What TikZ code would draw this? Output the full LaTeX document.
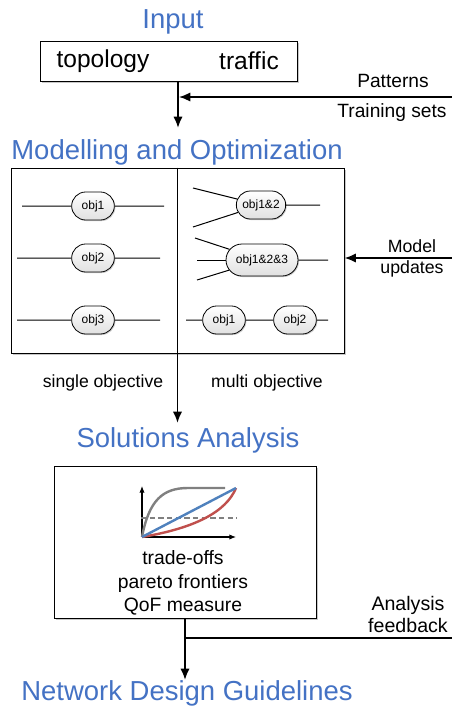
\documentclass[tikz,border=0pt]{standalone}
\usepackage{fontspec}
\setmainfont{Liberation Sans}
\usetikzlibrary{arrows.meta,calc,positioning,shapes.misc,shadows}
\definecolor{titleblue}{RGB}{68,114,196}
\definecolor{curvegray}{RGB}{128,128,128}
\definecolor{curveblue}{RGB}{79,129,189}
\definecolor{curvered}{RGB}{192,80,77}
\tikzset{%
	title/.style    = {text=titleblue, font=\fontsize{20.6}{24}\selectfont, inner sep=0pt},
	frame/.style    = {draw, line width=0.75pt, fill=white, drop shadow={shadow xshift=1.2pt, shadow yshift=-1.2pt, fill=black!22, opacity=1}},
	obj/.style      = {draw, rounded rectangle, line width=0.6pt, top color=white, bottom color=black!12, font=\fontsize{9}{10}\selectfont, minimum width=34pt, minimum height=21pt, inner sep=1pt, drop shadow={shadow xshift=0.8pt, shadow yshift=-0.8pt, fill=black!20, opacity=1}},
	wire/.style     = {line width=0.75pt},
	arrow/.style    = {line width=1.4pt,-{Latex[length=8.5pt,width=7pt]}},
	note/.style     = {font=\fontsize{14.4}{17}\selectfont, align=center, inner sep=0pt},
}

\begin{document}
\begin{tikzpicture}[x=0.75pt, y=-0.75pt]
	\useasboundingbox (0,0) rectangle (452,707);
	% input
	\node[title] (intitle) at (173,22) {Input};
	\node[frame, minimum width=192.75pt, minimum height=30pt] (inbox) at (168.5,61) {};
	\node[font=\fontsize{18.4}{20}\selectfont] (topo) at (103,61) {topology};
	\node[font=\fontsize{18.4}{20}\selectfont] (traffic) at (249,61) {traffic};
	\node[note] (patterns) at (393,81) {Patterns};
	\node[note] (training) at (392,113) {Training sets};
	\coordinate (intip) at (178,128);
	\coordinate (patin) at (452,97);
	\draw[arrow] (inbox.south -| intip) -- (intip);
	\draw[arrow, shorten >=0.7pt] (patin) -- (patin -| intip);
	
	% modelling and optimization
	\node[title] (modtitle) at (177,152) {Modelling and Optimization};
	\node[frame, minimum width=249.75pt, minimum height=138.75pt] (modbox) at (177.5,260.5) {};
	\draw[line width=0.75pt] (modbox.north) -- (modbox.south);
	
	\node[obj] (o1) at (93,206) {obj1};
	\node[obj] (o2) at (93,258) {obj2};
	\node[obj] (o3) at (93,320) {obj3};
	\coordinate (o1l) at (22,206);  \coordinate (o1r) at (164,206);
	\coordinate (o2l) at (17,258);  \coordinate (o2r) at (160,258);
	\coordinate (o3l) at (17,320);  \coordinate (o3r) at (160,320);
	\draw[wire] (o1l) -- (o1) -- (o1r);
	\draw[wire] (o2l) -- (o2) -- (o2r);
	\draw[wire] (o3l) -- (o3) -- (o3r);
	
	\node[obj, minimum width=39pt] (o12) at (261,205) {obj1\&2};
	\node[obj, minimum width=56pt, minimum height=24pt] (o123) at (262,260) {obj1\&2\&3};
	\node[obj] (oa) at (224,320) {obj1};
	\node[obj] (ob) at (295,320) {obj2};
	\coordinate (o12a) at (193,188); \coordinate (o12b) at (193,227); \coordinate (o12r) at (320,205);
	\coordinate (o123a) at (195,238); \coordinate (o123b) at (197,260); \coordinate (o123c) at (197,280);
	\coordinate (o123r) at (328,260);
	\coordinate (oal) at (186,320); \coordinate (obr) at (328,320);
	\draw[wire] (o12a) -- (o12);
	\draw[wire] (o12b) -- (o12);
	\draw[wire] (o12) -- (o12r);
	\draw[wire] (o123a) -- (o123);
	\draw[wire] (o123b) -- (o123);
	\draw[wire] (o123c) -- (o123);
	\draw[wire] (o123) -- (o123r);
	\draw[wire] (oal) -- (oa) -- (ob) -- (obr);
	
	\node[note, font=\fontsize{13.3}{15.75}\selectfont] (modupd) at (412,258) {Model\\updates};
	\coordinate (modin) at (452,258);
	\draw[arrow] (modin) -- (modin -| modbox.east);
	\node[note, font=\fontsize{13.2}{15}\selectfont] (single) at (103,383) {single objective};
	\node[note, font=\fontsize{13.2}{15}\selectfont] (multi) at (267,383) {multi objective};
	
	% solutions analysis
	\coordinate (soltip) at (177.5,423);
	\draw[arrow] (modbox.south) -- (soltip);
	\node[title] (soltitle) at (188,440) {Solutions Analysis};
	\node[frame, minimum width=196.5pt, minimum height=114pt] (solbox) at (185,542) {};
	
	\draw[line width=0.8pt, -{Latex[length=5pt,width=4pt]}] (142,537) -- (142,486);
	\draw[line width=0.8pt, -{Latex[length=5pt,width=4pt]}] (142,537) -- (236,537);
	\draw[curvegray, line width=1.6pt, dash pattern=on 4pt off 2.5pt] (141,518) -- (237,518);
	\draw[curvegray, line width=1.8pt] (142,537) .. controls (149,500) and (163,488) .. (188,488) -- (225,488);
	\draw[curvered, line width=1.8pt] (142,537) .. controls (195,528) and (226,512) .. (236,488);
	\draw[curveblue, line width=1.8pt] (142,537) -- (236,488);
	
	\node[note, font=\fontsize{14.5}{17.6}\selectfont] (soltext) at (183,583) {trade-offs\\pareto frontiers\\QoF measure};
	\node[note, font=\fontsize{14.7}{16.5}\selectfont] (feedback) at (408,614) {Analysis\\feedback};
	
	% guidelines
	\coordinate (ndtip) at (185,680);
	\coordinate (fbin) at (452,638);
	\draw[arrow] (solbox.south) -- (ndtip);
	\draw[line width=1.4pt] (fbin) -- (fbin -| solbox.south);
	\node[title] (ndtitle) at (187,693) {Network Design Guidelines};
\end{tikzpicture}
\end{document}
